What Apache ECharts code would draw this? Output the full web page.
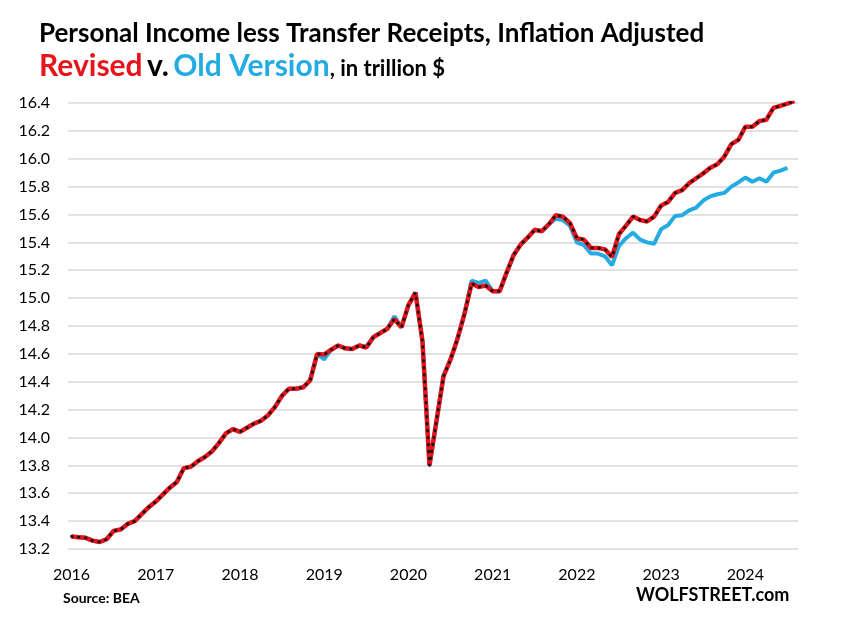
<!DOCTYPE html>
<html>
<head>
    <meta charset="UTF-8">
    <title>Personal Income less Transfer Receipts</title>
    <script src="https://cdn.jsdelivr.net/npm/echarts@6/dist/echarts.min.js"></script>
    <style>
        html, body { margin: 0; padding: 0; background: #fff; }
        #chart { width: 865px; height: 631px; }
    </style>
</head>
<body>
<div id="chart"></div>
<script>
// tick labels (one per January)
const years = ['2016', '2017', '2018', '2019', '2020', '2021', '2022', '2023', '2024'];

// revised series, monthly Jan 2016 - Aug 2024, trillion $
const revised = [
    13.29, 13.285, 13.28, 13.26, 13.25, 13.27, 13.33, 13.34, 13.38, 13.40, 13.45, 13.50,
    13.54, 13.59, 13.64, 13.68, 13.78, 13.79, 13.83, 13.86, 13.90, 13.96, 14.03, 14.06,
    14.04, 14.07, 14.10, 14.12, 14.16, 14.22, 14.30, 14.35, 14.35, 14.36, 14.41, 14.60,
    14.595, 14.63, 14.66, 14.64, 14.635, 14.66, 14.645, 14.72, 14.75, 14.78, 14.85, 14.79,
    14.95, 15.04, 14.69, 13.80, 14.12, 14.44, 14.56, 14.71, 14.89, 15.105, 15.08, 15.09,
    15.05, 15.05, 15.185, 15.31, 15.385, 15.435, 15.49, 15.48, 15.53, 15.595, 15.585, 15.54,
    15.43, 15.42, 15.36, 15.36, 15.35, 15.295, 15.46, 15.52, 15.585, 15.56, 15.55, 15.585,
    15.665, 15.69, 15.755, 15.775, 15.825, 15.86, 15.895, 15.935, 15.96, 16.015, 16.105, 16.135,
    16.23, 16.23, 16.27, 16.28, 16.365, 16.38, 16.395, 16.415
];

// old version, monthly Jan 2016 - Jul 2024
const oldVersion = [
    13.29, 13.285, 13.28, 13.26, 13.25, 13.27, 13.33, 13.34, 13.38, 13.40, 13.45, 13.50,
    13.54, 13.59, 13.64, 13.68, 13.78, 13.79, 13.83, 13.86, 13.90, 13.96, 14.03, 14.06,
    14.04, 14.07, 14.10, 14.12, 14.16, 14.22, 14.30, 14.35, 14.35, 14.36, 14.41, 14.60,
    14.56, 14.63, 14.66, 14.64, 14.635, 14.66, 14.655, 14.72, 14.75, 14.78, 14.87, 14.79,
    14.95, 15.04, 14.69, 13.80, 14.12, 14.44, 14.56, 14.71, 14.89, 15.125, 15.11, 15.125,
    15.05, 15.05, 15.185, 15.31, 15.385, 15.435, 15.49, 15.48, 15.53, 15.57, 15.56, 15.52,
    15.40, 15.38, 15.32, 15.32, 15.30, 15.235, 15.375, 15.43, 15.47, 15.42, 15.40, 15.39,
    15.495, 15.525, 15.59, 15.595, 15.63, 15.65, 15.70, 15.73, 15.745, 15.755, 15.80, 15.83,
    15.865, 15.835, 15.86, 15.835, 15.90, 15.915, 15.935
];

const months = [];
years.forEach(y => {
    for (let m = 1; m <= 12; m++) months.push(y + '-' + String(m).padStart(2, '0'));
});
months.length = revised.length;

const FONT = 'Lato';
const RED = '#E8141B';
const BLUE = '#24ACE2';

const chart = echarts.init(document.getElementById('chart'));
chart.setOption({
    animation: false,
    backgroundColor: '#fff',
    textStyle: { fontFamily: FONT },
    title: [
        {
            text: 'Personal Income less Transfer Receipts, Inflation Adjusted',
            left: 34, top: 16,
            textStyle: { fontFamily: FONT, fontSize: 26, fontWeight: 'bold', color: '#000' }
        },
        {
            text: '{r|Revised} {k|v.} {b|Old Version}{s|, in trillion $}',
            left: 34, top: 46,
            textStyle: {
                rich: {
                    r: { fontFamily: FONT, fontSize: 30, fontWeight: 'bold', color: RED },
                    k: { fontFamily: FONT, fontSize: 30, fontWeight: 'bold', color: '#000' },
                    b: { fontFamily: FONT, fontSize: 30, fontWeight: 'bold', color: BLUE },
                    s: { fontFamily: FONT, fontSize: 22, fontWeight: 'bold', color: '#000', padding: [5, 0, 0, 0] }
                }
            }
        }
    ],
    graphic: [
        { type: 'text', left: 63, top: 591, style: { text: 'Source: BEA', font: 'bold 14px Lato', fill: '#000' } },
        { type: 'text', left: 636, top: 586, style: { text: 'WOLFSTREET.com', font: 'bold 18px Lato', fill: '#000' } }
    ],
    grid: { left: 68, right: 67, top: 103, bottom: 82, containLabel: false },
    xAxis: {
        type: 'category',
        data: months,
        boundaryGap: true,
        axisLine: { show: false },
        axisTick: { show: false },
        axisLabel: {
            interval: idx => idx % 12 === 0,
            formatter: v => v.slice(0, 4),
            fontSize: 16, color: '#000', margin: 18, fontFamily: FONT
        }
    },
    yAxis: {
        type: 'value',
        min: 13.2, max: 16.4, interval: 0.2,
        axisLine: { show: false },
        axisTick: { show: false },
        axisLabel: {
            formatter: v => v.toFixed(1),
            fontSize: 16, color: '#000', margin: 18, fontFamily: FONT
        },
        splitLine: { lineStyle: { color: '#d9d9d9', width: 1.5 } }
    },
    series: [
        {
            name: 'Old Version', type: 'line', data: oldVersion,
            symbol: 'none', z: 2,
            lineStyle: { color: BLUE, width: 4 }
        },
        {
            name: 'Revised', type: 'line', data: revised,
            symbol: 'none', z: 3,
            lineStyle: { color: RED, width: 4.5 }
        },
        {
            name: 'Revised dots', type: 'line', data: revised,
            symbol: 'none', z: 4,
            lineStyle: { color: '#111', width: 2.8, type: [0.5, 6.5], cap: 'round' }
        }
    ]
});
</script>
</body>
</html>
